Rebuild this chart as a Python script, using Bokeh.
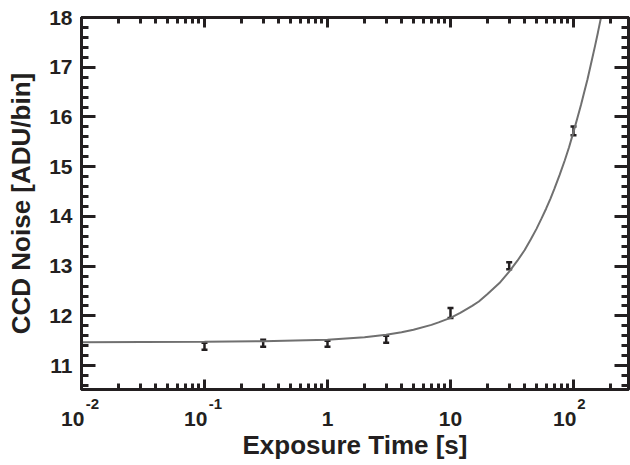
from bokeh.plotting import figure
from bokeh.models import (ColumnDataSource, Whisker, TeeHead, FixedTicker, LogAxis,
                          LinearAxis, Range1d, LogScale)
from bokeh.embed import file_html
from bokeh.resources import INLINE

# ---- data ----
exposure = [0.1, 0.3, 1, 3, 10, 30, 100]
noise = [11.39, 11.45, 11.44, 11.53, 12.06, 13.01, 15.72]
noise_err = [0.07, 0.07, 0.06, 0.07, 0.10, 0.07, 0.09]

fit_t = [0.01, 0.1, 0.3, 1, 2, 3, 4, 5, 7, 8, 10, 12, 15, 17, 20, 25, 30, 35, 40, 45,
         50, 55, 60, 65, 70, 77, 85, 92, 100, 107, 115, 122, 130, 140, 150, 158, 167, 175]
fit_noise = [11.47, 11.48, 11.49, 11.52, 11.57, 11.62, 11.67, 11.72, 11.82, 11.87,
             11.96, 12.06, 12.20, 12.29, 12.44, 12.66, 12.89, 13.11, 13.32, 13.54,
             13.75, 13.96, 14.16, 14.36, 14.56, 14.83, 15.13, 15.39, 15.70, 15.96,
             16.24, 16.49, 16.76, 17.11, 17.44, 17.70, 17.99, 18.24]

x_major = [0.01, 0.1, 1, 10, 100]
x_minor = [m * d for d in [0.01, 0.1, 1, 10, 100] for m in range(2, 10)]
x_base_text = ["10", "10", "1", "10", "10"]
x_exp_text = ["-2", "-1", "", "", "2"]
y_major = [11, 12, 13, 14, 15, 16, 17, 18]
y_minor = [round(10.6 + 0.2 * i, 1) for i in range(37)]
y_lo, y_hi = 10.52, 18
x_lo, x_hi = 0.01, 280

INK = "#231f20"
FONT = "Liberation Sans"
PAD = "\u00a0\u00a0\u00a0"          # pushes "10" left when an exponent follows
EXP_SHIFT = 10 ** (11 / 123)        # exponents sit ~11 px right of the tick
EXP_PX = [0, 0, 0, 0, 3]            # small per-label nudge to the left (px)

p = figure(width=630, height=463, x_axis_type="log", output_backend="svg",
           toolbar_location=None, x_range=Range1d(x_lo, x_hi), y_range=Range1d(y_lo, y_hi),
           min_border_left=81, min_border_right=2, min_border_top=17, min_border_bottom=74)
p.extra_x_ranges = {"exp": Range1d(x_lo / EXP_SHIFT, x_hi / EXP_SHIFT)}
p.extra_x_scales = {"exp": LogScale()}
p.grid.visible = False
p.outline_line_color = INK
p.outline_line_width = 3
p.background_fill_color = "white"
p.border_fill_color = "white"

p.line(fit_t, fit_noise, line_color="#707070", line_width=2)

src = ColumnDataSource(dict(x=exposure, y=noise,
                            lo=[v - e for v, e in zip(noise, noise_err)],
                            hi=[v + e for v, e in zip(noise, noise_err)]))
w = Whisker(source=src, base="x", lower="lo", upper="hi", line_color=INK, line_width=2.5,
            lower_head=TeeHead(size=6, line_color=INK, line_width=2.5),
            upper_head=TeeHead(size=6, line_color=INK, line_width=2.5))
p.add_layout(w)

xt = FixedTicker(ticks=x_major, minor_ticks=x_minor)
yt = FixedTicker(ticks=y_major, minor_ticks=y_minor)

def style(ax, major_in, minor_in):
    ax.axis_line_color = INK
    ax.axis_line_width = 3
    ax.major_tick_line_color = INK
    ax.minor_tick_line_color = INK
    ax.major_tick_line_width = 3
    ax.minor_tick_line_width = 3
    ax.major_tick_in = major_in
    ax.major_tick_out = 0
    ax.minor_tick_in = minor_in
    ax.minor_tick_out = 0
    ax.major_label_text_font = FONT
    ax.major_label_text_font_style = "bold"
    ax.major_label_text_font_size = "21px"
    ax.major_label_text_color = INK
    ax.axis_label_text_font = FONT
    ax.axis_label_text_font_style = "bold"
    ax.axis_label_text_font_size = "26px"
    ax.axis_label_text_color = INK

def hide_lines(ax):
    ax.axis_line_color = None
    ax.major_tick_line_color = None
    ax.minor_tick_line_color = None
    ax.major_tick_in = 0
    ax.minor_tick_in = 0

# main bottom axis: ticks only
xa = p.xaxis[0]
xa.ticker = xt
style(xa, 10, 6)
xa.major_label_text_font_size = "1px"
xa.major_label_text_alpha = 0
xa.major_label_standoff = 0

# exponents (superscripts)
exp_ticks = [t / 10 ** (px / 123) for t, s, px in zip(x_major, x_exp_text, EXP_PX) if s]
exp_axis = LogAxis(x_range_name="exp",
                   ticker=FixedTicker(ticks=exp_ticks, minor_ticks=[]),
                   major_label_overrides={t: s for t, s in
                                          zip(exp_ticks, [s for s in x_exp_text if s])})
style(exp_axis, 0, 0)
hide_lines(exp_axis)
exp_axis.major_label_text_font_size = "15px"
exp_axis.major_label_standoff = 9
p.add_layout(exp_axis, "below")

# base numbers
base_axis = LogAxis(ticker=FixedTicker(ticks=x_major, minor_ticks=[]),
                    major_label_overrides={t: (b + PAD if e else b) for t, b, e in
                                           zip(x_major, x_base_text, x_exp_text)})
style(base_axis, 0, 0)
hide_lines(base_axis)
base_axis.major_label_standoff = -5
base_axis.axis_label = "Exposure Time [s]"
base_axis.axis_label_standoff = -3
p.add_layout(base_axis, "below")

ya = p.yaxis[0]
ya.ticker = yt
style(ya, 14, 7)
ya.axis_label = "CCD Noise [ADU/bin]"
ya.major_label_standoff = 9
ya.axis_label_standoff = 10

top = LogAxis(ticker=xt)
style(top, 10, 6)
top.major_label_text_font_size = "1px"
top.major_label_text_alpha = 0
top.major_label_standoff = 0
p.add_layout(top, "above")

right = LinearAxis(ticker=yt)
style(right, 14, 7)
right.major_label_text_font_size = "1px"
right.major_label_text_alpha = 0
right.major_label_standoff = 0
p.add_layout(right, "right")

open("out.html", "w").write(file_html(p, INLINE))
